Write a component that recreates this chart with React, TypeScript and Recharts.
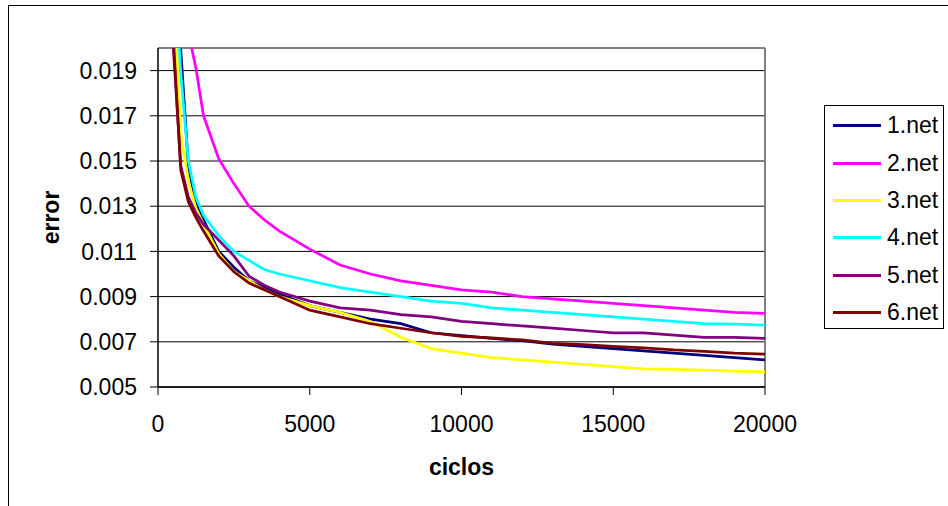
import { LineChart, Line, XAxis, YAxis, CartesianGrid, Legend, ReferenceLine, Label } from 'recharts'

const FONT = '"Liberation Sans", Arial, sans-serif'
const FONT_SIZE = 23

// training cycles shared by every run
const cycles = [
  250, 500, 750, 1000, 1250, 1500, 2000, 2500, 3000, 3500, 4000,
  5000, 6000, 7000, 8000, 9000, 10000, 11000, 12000, 13000, 14000,
  15000, 16000, 17000, 18000, 19000, 20000,
]

// error per run
const net1 = [
  0.04, 0.03, 0.0199, 0.0148, 0.0131, 0.0124, 0.011, 0.0103, 0.0097, 0.0094, 0.0091,
  0.0086, 0.0083, 0.008, 0.0078, 0.0074, 0.00727, 0.00715, 0.00705, 0.0069, 0.0068,
  0.0067, 0.0066, 0.0065, 0.0064, 0.0063, 0.0062,
]
const net2 = [
  0.04, 0.032, 0.027, 0.0207, 0.0191, 0.017, 0.0151, 0.014, 0.013, 0.0124, 0.0119,
  0.0111, 0.0104, 0.01, 0.0097, 0.0095, 0.0093, 0.0092, 0.009, 0.0089, 0.0088,
  0.0087, 0.0086, 0.0085, 0.0084, 0.0083, 0.00826,
]
const net3 = [
  0.03, 0.0232, 0.0162, 0.0141, 0.0129, 0.0122, 0.0109, 0.0101, 0.0097, 0.0093, 0.009,
  0.0086, 0.0083, 0.0079, 0.0072, 0.0067, 0.0065, 0.0063, 0.0062, 0.0061, 0.006,
  0.0059, 0.0058, 0.00578, 0.00575, 0.0057, 0.00567,
]
const net4 = [
  0.035, 0.0245, 0.0189, 0.015, 0.0134, 0.0126, 0.0117, 0.011, 0.0106, 0.0102, 0.01,
  0.0097, 0.0094, 0.0092, 0.009, 0.0088, 0.0087, 0.0085, 0.0084, 0.0083, 0.0082,
  0.0081, 0.008, 0.0079, 0.0078, 0.00778, 0.00774,
]
const net5 = [
  0.028, 0.0201, 0.0148, 0.0134, 0.0127, 0.0122, 0.0115, 0.0108, 0.0099, 0.0095, 0.0092,
  0.0088, 0.0085, 0.0084, 0.0082, 0.0081, 0.0079, 0.0078, 0.0077, 0.0076, 0.0075,
  0.0074, 0.0074, 0.0073, 0.0072, 0.0072, 0.00715,
]
const net6 = [
  0.03, 0.0206, 0.0146, 0.0132, 0.0125, 0.0119, 0.0108, 0.0101, 0.0096, 0.0093, 0.009,
  0.0084, 0.0081, 0.0078, 0.0076, 0.0074, 0.00724, 0.00717, 0.00708, 0.00693, 0.00687,
  0.0068, 0.00673, 0.00664, 0.00658, 0.0065, 0.00645,
]

const yTicks = [0.005, 0.007, 0.009, 0.011, 0.013, 0.015, 0.017, 0.019]
const xTicks = [0, 5000, 10000, 15000, 20000]

const series = [
  { key: 'net1', name: '1.net', color: '#000080', values: net1 },
  { key: 'net2', name: '2.net', color: '#ff00ff', values: net2 },
  { key: 'net3', name: '3.net', color: '#ffff00', values: net3 },
  { key: 'net4', name: '4.net', color: '#00ffff', values: net4 },
  { key: 'net5', name: '5.net', color: '#800080', values: net5 },
  { key: 'net6', name: '6.net', color: '#800000', values: net6 },
]

const data = cycles.map((c, i) => {
  const row: Record<string, number> = { ciclos: c }
  series.forEach((s) => { row[s.key] = s.values[i] })
  return row
})

const tickStyle = { fill: '#000', fontSize: FONT_SIZE, fontFamily: FONT }

function ErrorTitle(props: any) {
  const vb = props.viewBox
  const cy = vb ? vb.y + vb.height / 2 : 217
  return (
    <text
      x={51}
      y={cy}
      transform={`rotate(-90 51 ${cy})`}
      textAnchor="middle"
      dominantBaseline="central"
      fill="#000"
      fontSize={FONT_SIZE}
      fontWeight="bold"
      fontFamily={FONT}
    >
      error
    </text>
  )
}

function NetLegend(props: any) {
  const items = props.payload || []
  return (
    <div style={{
      width: 120, height: 224, boxSizing: 'border-box', border: '1px solid #000',
      background: '#fff', paddingTop: 1, fontFamily: FONT, fontSize: FONT_SIZE, color: '#000',
    }}>
      {items.map((p: any) => (
        <div key={p.value} style={{ height: 37.4, display: 'flex', alignItems: 'center' }}>
          <span style={{ display: 'inline-block', width: 48, height: 3, marginLeft: 8, background: p.color }} />
          <span style={{ marginLeft: 6 }}>{p.value}</span>
        </div>
      ))}
    </div>
  )
}

export default function App() {
  return (
    <div style={{ position: 'absolute', left: 0, top: 0, width: 948, height: 506, overflow: 'hidden', background: '#fff' }}>
      {/* chart frame, open to the right and bottom */}
      <div style={{ position: 'absolute', left: 8, top: 5, width: 960, height: 520, borderLeft: '1px solid #000', borderTop: '1px solid #000' }} />
      <div style={{ position: 'absolute', left: 0, top: 0 }}>
        <LineChart width={948} height={506} data={data} margin={{ top: 48, right: 183, bottom: 0, left: 0 }}>
          <CartesianGrid vertical={false} stroke="#000" strokeWidth={1} />
          <XAxis
            dataKey="ciclos"
            type="number"
            domain={[0, 20000]}
            ticks={xTicks}
            height={119}
            tick={tickStyle}
            tickSize={8}
            tickMargin={21}
            axisLine={{ stroke: '#000', strokeWidth: 1.5 }}
            tickLine={{ stroke: '#000' }}
          >
            <Label value="ciclos" position="insideBottom" offset={31} fill="#000" fontSize={FONT_SIZE} fontWeight="bold" fontFamily={FONT} />
          </XAxis>
          <YAxis
            type="number"
            domain={[0.005, 0.02]}
            allowDataOverflow
            ticks={yTicks}
            width={158}
            tick={tickStyle}
            tickSize={8}
            tickMargin={13}
            tickFormatter={(v: number) => v.toFixed(3)}
            axisLine={{ stroke: '#000', strokeWidth: 1.5 }}
            tickLine={{ stroke: '#000' }}
          >
            <Label content={(p: any) => <ErrorTitle {...p} />} />
          </YAxis>
          <ReferenceLine y={0.02} stroke="#808080" strokeWidth={2} />
          <ReferenceLine x={20000} stroke="#808080" strokeWidth={2} />
          {series.map((s) => (
            <Line
              key={s.key}
              dataKey={s.key}
              name={s.name}
              type="linear"
              stroke={s.color}
              strokeWidth={2.75}
              dot={false}
              activeDot={false}
              isAnimationActive={false}
            />
          ))}
          <Legend
            layout="vertical"
            align="center"
            verticalAlign="middle"
            content={<NetLegend />}
            wrapperStyle={{ left: 824, top: 105, width: 120 }}
          />
        </LineChart>
      </div>
    </div>
  )
}
